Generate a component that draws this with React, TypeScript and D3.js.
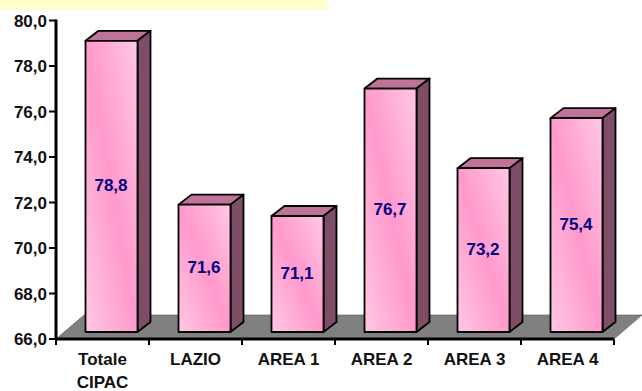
import React from "react";
import * as d3 from "d3";

const categories = ["Totale CIPAC", "LAZIO", "AREA 1", "AREA 2", "AREA 3", "AREA 4"];
const categoryLines = [["Totale", "CIPAC"], ["LAZIO"], ["AREA 1"], ["AREA 2"], ["AREA 3"], ["AREA 4"]];
const values = [78.8, 71.6, 71.1, 76.7, 73.2, 75.4];
const yTicks = [66, 68, 70, 72, 74, 76, 78, 80];

const width = 642;
const height = 391;
const axisX = 56;
const axisRight = 614;
const floorDX = 28;
const floorDY = 24;
const barDX = 13;
const barDY = 10;
const frontLift = 7;
const barWidth = 52;

const fmt = (v: number) => v.toFixed(1).replace(".", ",");
const fontFamily = "'Liberation Sans', Arial, sans-serif";

export default function App() {
  const y = d3.scaleLinear().domain([66, 80]).range([339, 20.5]);
  const x = d3.scaleBand<string>().domain(categories).range([axisX, axisRight]);
  const barLeft = (c: string) => (x(c) as number) + 29.5;

  const floor = d3.line()([
    [axisX, y(66)],
    [axisX + floorDX, y(66) - floorDY],
    [axisRight + floorDX, y(66) - floorDY],
    [axisRight, y(66)],
  ]) + "Z";

  const edges = [...categories.map((c) => x(c) as number), axisRight];

  return (
    <svg
      width={width}
      height={height}
      style={{ position: "absolute", left: 0, top: 0, background: "#fff" }}
      fontFamily={fontFamily}
    >
      <defs>
        {/* Diagonal sheen on the front faces: light corners, saturated along the main diagonal */}
        <linearGradient id="face" x1="1" y1="0" x2="0" y2="1">
          <stop offset="0" stopColor="#FFC8E3" />
          <stop offset="0.5" stopColor="#FF99CC" />
          <stop offset="1" stopColor="#FFC8E3" />
        </linearGradient>
      </defs>

      <rect x={0} y={0} width={328} height={9.5} fill="#FFFFCC" />

      <path d={floor} fill="#808080" stroke="#555" strokeWidth={0.6} />

      {categories.map((c, i) => {
        const left = barLeft(c);
        const right = left + barWidth;
        const top = y(values[i]) - frontLift;
        const base = y(66) - frontLift;
        const topFace = d3.line()([
          [left, top],
          [left + barDX, top - barDY],
          [right + barDX, top - barDY],
          [right, top],
        ]) + "Z";
        const sideFace = d3.line()([
          [right, top],
          [right + barDX, top - barDY],
          [right + barDX, base - barDY],
          [right, base],
        ]) + "Z";
        return (
          <g key={c} stroke="#000" strokeWidth={1.8} strokeLinejoin="round">
            <path d={topFace} fill="#BF7399" />
            <path d={sideFace} fill="#7F4D66" />
            <rect x={left} y={top} width={barWidth} height={base - top} fill="url(#face)" />
            <text
              x={left + barWidth / 2 - 0.5}
              y={(top + base) / 2 + 5}
              textAnchor="middle"
              fontSize={17}
              fontWeight={700}
              fill="#000080"
              stroke="none"
            >
              {fmt(values[i])}
            </text>
          </g>
        );
      })}

      {/* Value axis */}
      <line x1={axisX} x2={axisX} y1={y(80) - 1} y2={y(66) + 1} stroke="#000" strokeWidth={3} />
      {yTicks.map((t) => (
        <g key={t}>
          <line x1={axisX - 7} x2={axisX} y1={y(t)} y2={y(t)} stroke="#000" strokeWidth={2} />
          <text x={47} y={y(t) + 6} textAnchor="end" fontSize={17} fontWeight={700} fill="#111">
            {fmt(t)}
          </text>
        </g>
      ))}

      {/* Category axis */}
      <line x1={axisX} x2={axisRight} y1={y(66)} y2={y(66)} stroke="#000" strokeWidth={3} />
      {edges.map((e) => (
        <line key={e} x1={e} x2={e} y1={y(66)} y2={y(66) + 6} stroke="#000" strokeWidth={2} />
      ))}
      {categories.map((c, i) => (
        <text
          key={c}
          textAnchor="middle"
          fontSize={17}
          fontWeight={700}
          fill="#111"
        >
          {categoryLines[i].map((line, j) => (
            <tspan key={line} x={(x(c) as number) + x.bandwidth() / 2} y={365 + j * 22.5}>
              {line}
            </tspan>
          ))}
        </text>
      ))}
    </svg>
  );
}
